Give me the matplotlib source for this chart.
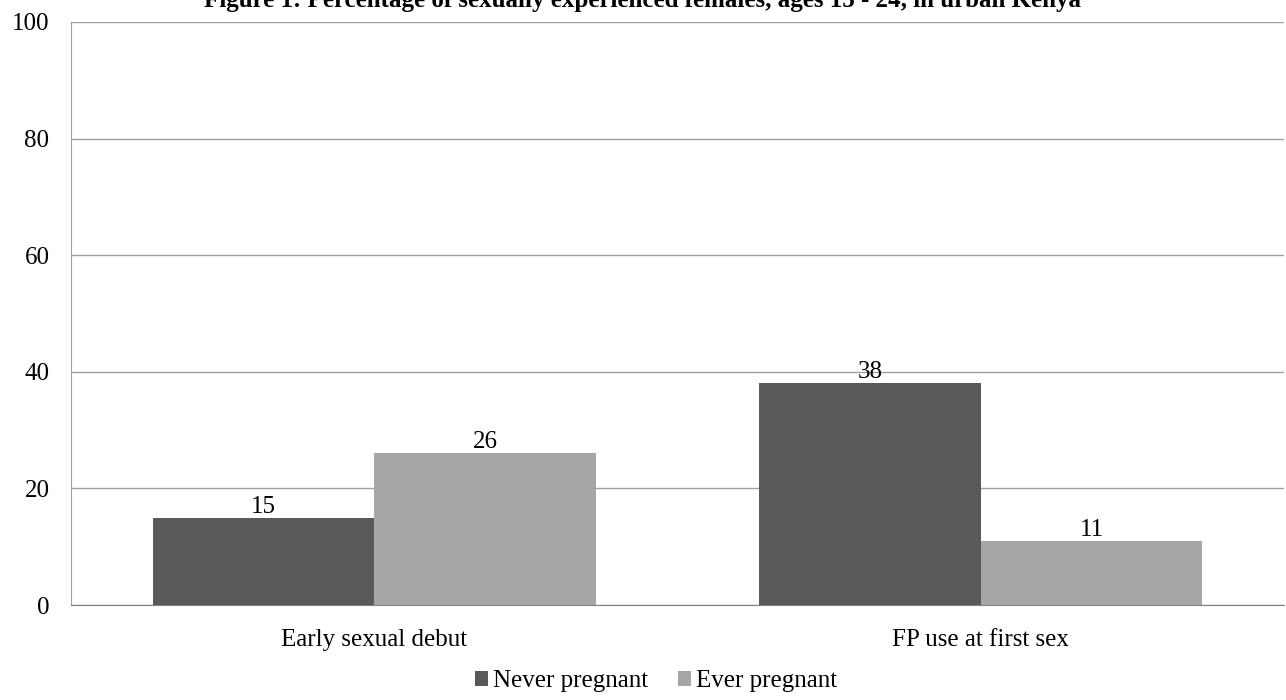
import matplotlib
matplotlib.use("Agg")
import matplotlib.pyplot as plt
import numpy as np

categories = ["Early sexual debut", "FP use at first sex"]
series_names = ["Never pregnant", "Ever pregnant"]
never_pregnant = [15, 38]
ever_pregnant = [26, 11]
colors = ["#595959", "#a6a6a6"]
yticks = [0, 20, 40, 60, 80, 100]

plt.rcParams["font.family"] = ["Liberation Serif", "DejaVu Serif"]
FS = 18

fig = plt.figure(figsize=(12.86, 7.0), dpi=100)
ax = fig.add_axes([71 / 1286, 95 / 700, (1284 - 71) / 1286, (605 - 22) / 700])

x = np.arange(len(categories))
w = 0.365
vals = [never_pregnant, ever_pregnant]
offsets = [-w / 2, w / 2]
for name, v, c, off in zip(series_names, vals, colors, offsets):
    bars = ax.bar(x + off, v, width=w, color=c, label=name, zorder=3)
    for b, val in zip(bars, v):
        ax.text(b.get_x() + b.get_width() / 2, val, f"{val}",
                ha="center", va="bottom", fontsize=FS, zorder=4)

ax.set_xlim(-0.5, 1.5)
ax.set_ylim(0, 100)
ax.set_yticks(yticks)
ax.set_xticks(x)
ax.set_xticklabels(categories, fontsize=FS)
ax.tick_params(axis="y", labelsize=FS, length=0, pad=15.5)
ax.tick_params(axis="x", length=0, pad=17)
ax.grid(axis="y", color="#a0a0a0", linewidth=1, zorder=0)
for s in ["top", "right"]:
    ax.spines[s].set_visible(False)
ax.spines["left"].set_color("#a0a0a0")
ax.spines["bottom"].set_color("#808080")

fig.text(0.5, 1 - 7 / 700,
         "Figure 1: Percentage of sexually experienced females, ages 15 - 24, in urban Kenya",
         ha="center", va="baseline", fontsize=18, fontweight="bold")

ax.legend(loc="upper center", bbox_to_anchor=((656 - 71) / (1284 - 71), -0.095), ncol=2,
          frameon=False, fontsize=FS, handlelength=0.5, handleheight=0.5,
          handletextpad=0.2, columnspacing=1.2, borderaxespad=0)

fig.savefig("out.png", dpi=100)
